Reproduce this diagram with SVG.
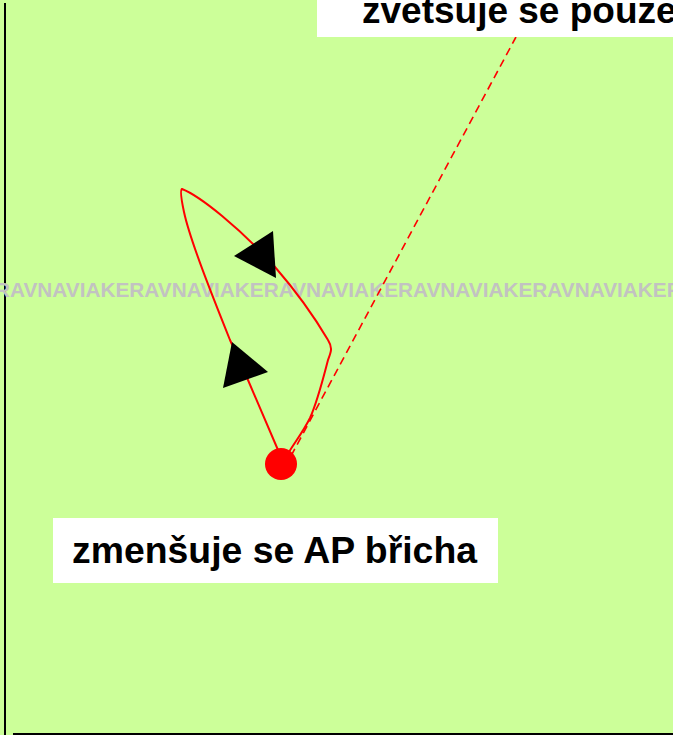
<svg xmlns="http://www.w3.org/2000/svg" width="673" height="735" viewBox="0 0 673 735">
<style>
.lbl{font-family:"Liberation Sans",Arial,sans-serif;font-weight:bold;font-size:37px;fill:#000}
.wm{font-family:"Liberation Sans",Arial,sans-serif;font-weight:bold;font-size:20px;fill:#c2c2c2}
.box{fill:#fff}
.arrow{fill:#000}
</style>
<rect x="0" y="0" width="673" height="735" fill="#ccff99"/>
<g id="frame">
<line x1="5" y1="3" x2="5" y2="735" stroke="#000" stroke-width="2"/>
<line x1="13" y1="734" x2="673" y2="734" stroke="#000" stroke-width="2"/>
</g>
<g id="watermark">
<text class="wm" x="-5" y="297" textLength="806" lengthAdjust="spacingAndGlyphs">RAVNAVIAKERAVNAVIAKERAVNAVIAKERAVNAVIAKERAVNAVIAKERAVNAVIAKE</text>
</g>
<g id="connectors">
<line x1="291" y1="456" x2="516" y2="37" stroke="#ff0000" stroke-width="1.6" stroke-dasharray="8,5"/>
<path d="M278,450 L248,380 L230,340 C212,295 190,240 184,212 C181,198 180,190 182,189 C200,196 240,228 275,267 C295,290 315,318 328,340 C333,348 331,352 328,360 C324,375 318,400 310,418 C303,432 295,442 289,452" fill="none" stroke="#ff0000" stroke-width="2"/>
<polygon class="arrow" points="232,342 223,388 268,372"/>
<polygon class="arrow" points="273,231 234,256 276,278"/>
</g>
<g id="start-point">
<circle cx="281" cy="464" r="16" fill="#ff0000"/>
</g>
<g id="label-top">
<rect class="box" x="317" y="0" width="356" height="37"/>
<text class="lbl" x="362" y="23">zvetsuje se pouze</text>
</g>
<g id="label-bottom">
<rect class="box" x="53" y="518" width="445" height="65"/>
<text class="lbl" x="72" y="563" textLength="405" lengthAdjust="spacingAndGlyphs">zmenšuje se AP břicha</text>
</g>
</svg>
